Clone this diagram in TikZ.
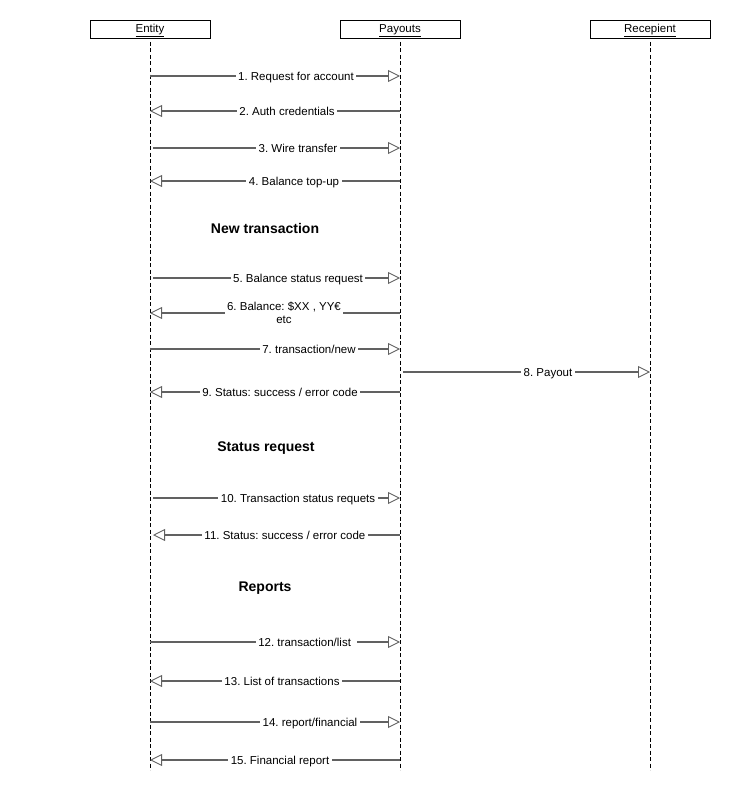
\documentclass[tikz,border=0pt]{standalone}
\usepackage{fontspec}
\setmainfont{Liberation Sans}
\usetikzlibrary{arrows.meta}
\frenchspacing

\begin{document}
\begin{tikzpicture}[x=1pt,y=-1pt,
  actor/.style={draw,fill=white,minimum width=120pt,minimum height=18pt,inner sep=0pt,
    text height=6.5pt,text depth=0pt,font=\fontsize{11.5}{13}\selectfont},
  life/.style={dash pattern=on 4pt off 2.5pt,line width=0.6pt},
  msg/.style={draw=black!62,line width=1.2pt,
    -{Triangle[open,length=12pt,width=12pt,line width=0.9pt]}},
  lbl/.style={fill=white,inner sep=2.5pt,text=black,align=center,
    text height=8.2pt,text depth=0pt,font=\fontsize{11.5}{13}\selectfont},
  head/.style={font=\fontsize{14}{16}\selectfont\bfseries}]

    \useasboundingbox (0,0) rectangle (732,800);

    % lifelines
    \coordinate (entEnd) at (150,770);
    \coordinate (payEnd) at (400,770);
    \coordinate (recEnd) at (650,770);
    \draw[life] (150,29) -- (entEnd);
    \draw[life] (400,29) -- (payEnd);
    \draw[life] (650,29) -- (recEnd);

    % participants
    \node[actor] (ent) at (150,29) {\underline{Entity}};
    \node[actor] (pay) at (400,29) {\underline{Payouts}};
    \node[actor] (rec) at (650,29) {\underline{Recepient}};

    % messages
    \draw[msg] (ent |- 0,76) -- node[lbl,pos=0.584] {1. Request for account} (pay |- 0,76);
    \draw[msg] (pay |- 0,111) -- node[lbl,pos=0.452] {2. Auth credentials} (ent |- 0,111);
    \draw[msg] ([xshift=3pt]ent |- 0,148) -- node[lbl,pos=0.587] {3. Wire transfer} (pay |- 0,148);
    \draw[msg] (pay |- 0,181) -- node[lbl,pos=0.424] {4. Balance top-up} (ent |- 0,181);

    \node[head] (newtx) at (265,228) {New transaction};

    \draw[msg] ([xshift=3pt]ent |- 0,278) -- node[lbl,pos=0.587] {5. Balance status request} (pay |- 0,278);
    \draw[msg] (pay |- 0,313) -- node[lbl,pos=0.464,text height=,text depth=] {6. Balance: \$XX , YY€\\etc} (ent |- 0,313);
    \draw[msg] (ent |- 0,349) -- node[lbl,pos=0.636] {7. transaction/new} (pay |- 0,349);
    \draw[msg] ([xshift=3pt]pay |- 0,372) -- node[lbl,pos=0.587] {8. Payout} (rec |- 0,372);
    \draw[msg] (pay |- 0,392) -- node[lbl,pos=0.48] {9. Status: success / error code} (ent |- 0,392);

    \node[head] (statreq) at (266,448) {Status request};

    \draw[msg] ([xshift=3pt]ent |- 0,498) -- node[lbl,pos=0.587] {10. Transaction status requets} (pay |- 0,498);
    \draw[msg] (pay |- 0,535) -- node[lbl,pos=0.466] {11. Status: success / error code} ([xshift=3pt]ent |- 0,535);

    \node[head] (reports) at (265,588) {Reports};

    \draw[msg] (ent |- 0,642) -- node[lbl,pos=0.625] {12. transaction/list\ } (pay |- 0,642);
    \draw[msg] (pay |- 0,681) -- node[lbl,pos=0.472] {13. List of transactions} (ent |- 0,681);
    \draw[msg] (ent |- 0,722) -- node[lbl,pos=0.64] {14. report/financial} (pay |- 0,722);
    \draw[msg] (pay |- 0,760) -- node[lbl,pos=0.48] {15. Financial report} (ent |- 0,760);

\end{tikzpicture}
\end{document}
